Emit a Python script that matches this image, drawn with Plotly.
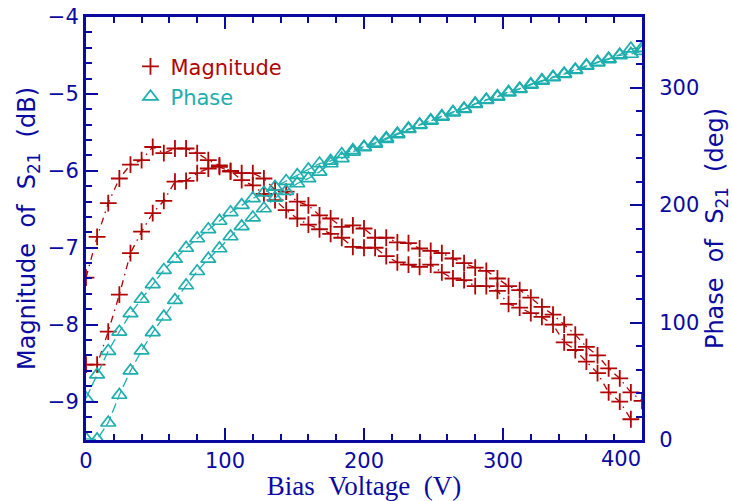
import plotly.graph_objects as go

# Bias sweep points (V)
voltage = [0, 8, 16, 24, 32, 40, 48, 56, 64, 72, 80, 88, 96, 104, 112, 120,
           128, 136, 144, 152, 160, 168, 176, 184, 192, 200, 208, 216, 224,
           232, 240, 248, 256, 264, 272, 280, 288, 296, 304, 312, 320, 328,
           336, 344, 352, 360, 368, 376, 384, 392, 400]

# |S21| in dB, first sweep (ends at 392 V)
mag_sweep1 = [-7.39, -6.86, -6.42, -6.10, -5.92, -5.86, -5.69, -5.77, -5.71,
              -5.71, -5.77, -5.86, -5.93, -6.00, -6.12, -6.19, -6.30, -6.38,
              -6.51, -6.62, -6.70, -6.76, -6.82, -6.87, -6.99, -7.00, -7.00,
              -7.11, -7.19, -7.22, -7.25, -7.22, -7.32, -7.40, -7.42, -7.50,
              -7.50, -7.56, -7.73, -7.78, -7.85, -7.90, -8.00, -8.23, -8.33,
              -8.48, -8.63, -8.88, -9.00, -9.23]

# |S21| in dB, second sweep
mag_sweep2 = [-8.52, -8.52, -8.09, -7.61, -7.07, -6.79, -6.55, -6.39, -6.14,
              -6.13, -6.03, -5.97, -5.95, -6.01, -6.03, -6.03, -6.10, -6.25,
              -6.27, -6.40, -6.45, -6.58, -6.62, -6.73, -6.71, -6.75, -6.87,
              -6.87, -6.93, -6.94, -7.01, -7.04, -7.07, -7.14, -7.20, -7.26,
              -7.30, -7.40, -7.50, -7.55, -7.65, -7.77, -7.87, -8.00, -8.13,
              -8.29, -8.40, -8.57, -8.70, -8.88, -8.99]

# Phase of S21 in degrees, first sweep
phase_sweep1 = [35.5, 55.6, 75.7, 92.1, 107.7, 120.0, 132.5, 144.6, 154.1,
                163.4, 171.5, 179.3, 186.4, 193.8, 199.9, 205.6, 210.5, 215.4,
                220.4, 225.4, 230.2, 235.3, 237.5, 243.2, 246.6, 249.5, 252.9,
                257.0, 260.8, 265.1, 268.5, 272.2, 275.6, 279.2, 282.1, 286.4,
                289.7, 292.6, 296.2, 299.1, 302.8, 306.2, 309.0, 311.9, 315.3,
                318.9, 321.7, 324.6, 327.4, 328.5, 331.0]

# Phase of S21 in degrees, second sweep
phase_sweep2 = [1.0, 0.5, 14.7, 38.3, 59.0, 76.0, 91.6, 104.9, 119.0, 131.5,
                143.6, 154.1, 163.0, 173.2, 181.8, 189.3, 197.0, 206.0, 211.8,
                218.3, 222.6, 228.2, 235.3, 239.6, 245.2, 249.0, 252.0, 256.0,
                260.0, 264.5, 268.0, 271.5, 275.0, 278.7, 281.5, 285.8, 289.2,
                292.0, 295.6, 298.5, 302.2, 305.6, 308.5, 311.4, 314.8, 318.3,
                321.2, 324.0, 328.0, 333.1, 333.5]

# Axis tick values and labels (the last x label is placed flush left of its tick)
x_ticks = [0, 100, 200, 300, 400]
x_ticklabels = ["0", "100", "200", "300", ""]
x_last_label = "400"

RED = "#B00404"
TEAL = "#1EAEAE"
BLUE = "#0A0AA0"
SANS = "DejaVu Sans"
SERIF = "Liberation Serif"
SP = "\u00a0"

mag_marker = dict(symbol="cross-thin", size=12, line=dict(color=RED, width=1.8), color=RED)
ph_marker = dict(symbol="triangle-up-open", size=13, line=dict(color=TEAL, width=1.7), color=TEAL)
mag_line = dict(color=RED, width=1.3, dash="7px,5px,1.5px,5px")
ph_line = dict(color=TEAL, width=1.3, dash="10px,4px")

fig = go.Figure()

for ph in (phase_sweep1, phase_sweep2):
    fig.add_trace(go.Scatter(x=voltage[:len(ph)], y=ph, yaxis="y2", mode="lines+markers",
                             marker=ph_marker, line=ph_line, showlegend=False))

for mag in (mag_sweep1, mag_sweep2):
    fig.add_trace(go.Scatter(x=voltage[:len(mag)], y=mag, mode="lines+markers",
                             marker=mag_marker, line=mag_line, showlegend=False))

# legend entries (symbols only)
fig.add_trace(go.Scatter(x=[None], y=[None], mode="markers", marker=mag_marker,
                         name=f'<span style="color:{RED}">Magnitude</span>',
                         legendgroup="m"))
fig.add_trace(go.Scatter(x=[None], y=[None], mode="markers", marker=ph_marker,
                         name=f'<span style="color:{TEAL}">Phase</span>',
                         legendgroup="p"))

tickfont = dict(family=SANS, size=21, color=BLUE)

fig.add_annotation(x=x_ticks[-1], xref="x", y=0, yref="paper", yanchor="top",
                   xanchor="right", text=x_last_label, showarrow=False,
                   xshift=1, yshift=-5, font=tickfont)

fig.update_layout(
    width=732, height=501,
    margin=dict(l=86, r=90, t=17, b=61, autoexpand=False),
    paper_bgcolor="white", plot_bgcolor="white",
    showlegend=True,
    legend=dict(x=0.08, y=0.931, xanchor="left", yanchor="top",
                bgcolor="rgba(0,0,0,0)", font=dict(family=SANS, size=21),
                tracegroupgap=0, itemwidth=30),
    xaxis=dict(
        range=[0, 400], tickvals=x_ticks, ticktext=x_ticklabels, automargin=False,
        showline=True, linecolor=BLUE, linewidth=3, mirror="ticks",
        ticks="inside", ticklen=12, tickwidth=2, tickcolor=BLUE,
        minor=dict(dtick=20, ticks="inside", ticklen=6, tickwidth=2, tickcolor=BLUE),
        showgrid=False, zeroline=False, tickfont=tickfont,
        title=dict(text=f"Bias{SP}{SP}Voltage{SP}{SP}(V)",
                   font=dict(family=SERIF, size=27, color=BLUE), standoff=15),
    ),
    yaxis=dict(
        range=[-9.5, -4], dtick=1, tick0=-4, automargin=False,
        showline=True, linecolor=BLUE, linewidth=3,
        ticks="inside", ticklen=12, tickwidth=2, tickcolor=BLUE,
        minor=dict(dtick=0.2, ticks="inside", ticklen=6, tickwidth=2, tickcolor=BLUE),
        showgrid=False, zeroline=False, tickfont=tickfont,
        title=dict(text=f"Magnitude{SP}{SP}of{SP}{SP}S<sub>21</sub>{SP}{SP}(dB)",
                   font=dict(family=SANS, size=24, color=BLUE), standoff=6),
    ),
    yaxis2=dict(
        range=[0, 360], dtick=100, tick0=0, overlaying="y", side="right",
        automargin=False,
        showline=True, linecolor=BLUE, linewidth=3,
        ticks="inside", ticklen=12, tickwidth=2, tickcolor=BLUE,
        minor=dict(dtick=20, ticks="inside", ticklen=6, tickwidth=2, tickcolor=BLUE),
        showgrid=False, zeroline=False, tickfont=tickfont, ticklabelstandoff=10,
        title=dict(text=f"Phase{SP}{SP}of{SP}{SP}S<sub>21</sub>{SP}{SP}(deg)",
                   font=dict(family=SANS, size=24, color=BLUE), standoff=16),
    ),
)

fig.write_html("out.html")
